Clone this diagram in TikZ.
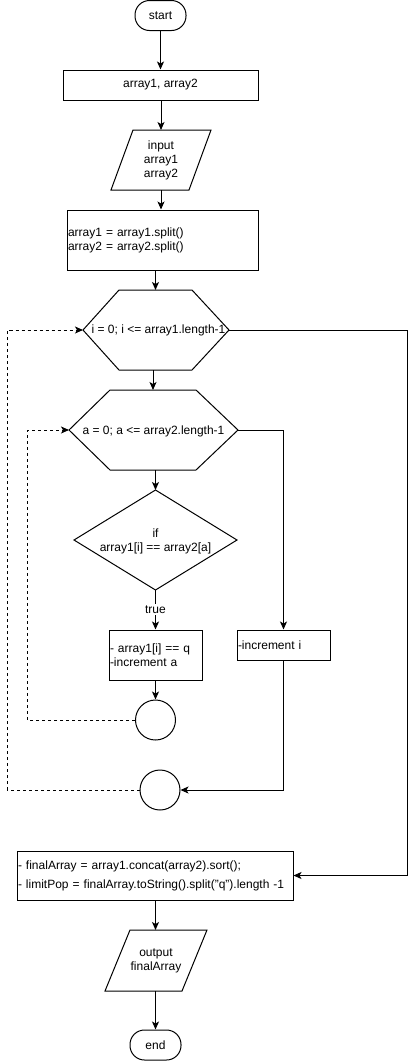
\documentclass[tikz,border=0pt]{standalone}
\usepackage{fontspec}
\setmainfont{Liberation Sans}
\usetikzlibrary{arrows.meta,calc}
\begin{document}
\begin{tikzpicture}[x=1pt,y=-1pt,
  every node/.style={font=\fontsize{12}{14}\selectfont, inner sep=1pt},
  outline/.style={draw, line width=1pt, line join=miter},
  flow/.style={draw, line width=1pt, -{Stealth[length=8pt,width=7pt,inset=2pt]}},
  plainline/.style={draw, line width=1pt},
  loopback/.style={flow, dash pattern=on 3pt off 3pt},
  term/.style={outline, rounded corners=14.5pt, minimum width=51pt, minimum height=30pt},
  procbox/.style={outline, align=left, minimum height=#1},
  conn/.style={outline, circle, minimum size=40pt, inner sep=0pt},
]
\path[use as bounding box] (0,0) rectangle (416,1061);

% ---- straight part: start, declarations, input, split
\node[term] (start) at (160.5,15.5) {start};
\node[outline, minimum width=195pt, minimum height=30pt] (vars) at (160.5,85) {array1, array2};

\coordinate (in-n) at (161,130);
\draw[outline] (111,190) -- (133,130) -- (211,130) -- (189,190) -- cycle;
\node[align=center] (in) at (161,160.5) {input\\array1\\array2};
\coordinate (in-s) at (161,190);

\node[procbox=60pt, text width=189pt] (split) at (162.5,240) {array1 = array1.split()\\array2 = array2.split()};

% ---- outer loop header (hexagon)
\draw[outline] (83,330) -- (119,290) -- (192,290) -- (229,330) -- (192,370) -- (119,370) -- cycle;
\coordinate (h1n) at (155.5,290);
\coordinate (h1s) at (153,370);
\coordinate (h1w) at (83,330);
\coordinate (h1e) at (229,330);
\node (outer) at (158.5,330) {i = 0; i <= array1.length-1};

% ---- inner loop header (hexagon)
\draw[outline] (69,430) -- (110,390) -- (196,390) -- (238,430) -- (196,470) -- (110,470) -- cycle;
\coordinate (h2n) at (153,390);
\coordinate (h2s) at (155.5,470);
\coordinate (h2w) at (69,430);
\coordinate (h2e) at (238,430);
\node (inner) at (153.5,431) {a = 0; a <= array2.length-1};

% ---- comparison (diamond)
\draw[outline] (155.5,490) -- (237,540) -- (155.5,590) -- (74,540) -- cycle;
\coordinate (d-n) at (155.5,490);
\coordinate (d-s) at (155.5,590);
\node[align=center] (cmp) at (155.5,541) {if\\array1[i] == array2[a]};

\node[procbox=50pt, text width=91pt] (mark) at (155.5,655) {- array1[i] == q\\-increment a};
\node[conn] (c1) at (155.5,720) {};

\node[procbox=30pt, text width=91pt] (inci) at (283.5,645) {-increment i};
\node[conn] (c2) at (160,790) {};

% ---- result and output
\node[procbox=49pt, text width=274pt] (final) at (155,875.5)
  {- finalArray = array1.concat(array2).sort();\\[5pt]- limitPop = finalArray.toString().split("q").length -1};

\draw[outline] (105,991) -- (130,930) -- (207,930) -- (182,991) -- cycle;
\coordinate (out-n) at (155.5,930);
\coordinate (out-s) at (155.5,991);
\node[align=center] (out) at (156,961) {output\\finalArray};

\node[term] (end) at (155.5,1045) {end};

% ---- loop lanes
\coordinate (laneA) at (27.5,720);
\coordinate (laneB) at (7.5,790);
\coordinate (laneC) at (407,330);

% ---- connectors
\draw[flow] (start) -- (vars);
\draw[flow] (vars.south -| in-n) -- (in-n);
\draw[flow] (in-s) -- (in-s |- split.north);
\draw[flow] (h1n |- split.south) -- (h1n);
\draw[flow] (h1s) -- (h2n);
\draw[flow] (h2s) -- (d-n);
\draw[flow] (d-s) -- (mark.north) node[midway, fill=white, inner sep=1.5pt] (truelbl) {true};
\draw[flow] (mark) -- (c1);
\draw[loopback] (c1.west) -- (laneA) |- (h2w);
\draw[flow] (h2e) -| (inci.north);
\draw[flow] (inci.south) |- (c2.east);
\draw[loopback] (c2.west) -- (laneB) |- (h1w);
\draw[flow] (h1e) -- (laneC) |- (final.east);
\draw[flow] (out-n |- final.south) -- (out-n);
\draw[flow] (out-s) -- (end);
\end{tikzpicture}
\end{document}
